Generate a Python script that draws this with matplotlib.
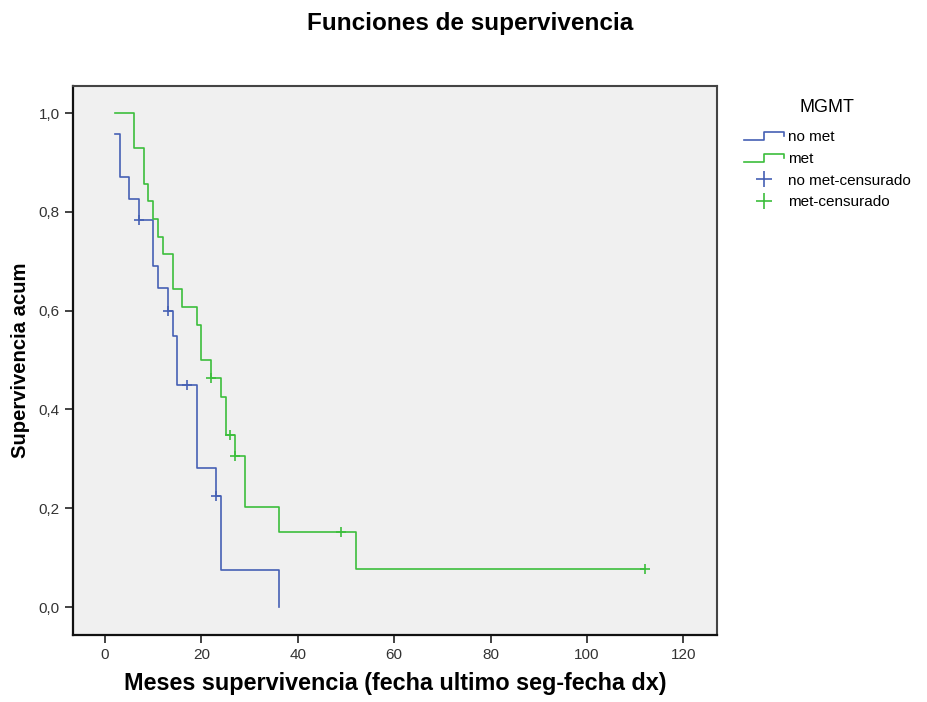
import matplotlib
matplotlib.use("Agg")
import matplotlib.pyplot as plt
from matplotlib.lines import Line2D
from matplotlib.legend_handler import HandlerBase

plt.rcParams['font.family'] = ['Liberation Sans', 'DejaVu Sans']

# Kaplan-Meier step functions (time in months, cumulative survival after each step)
no_met_time = [2, 3, 5, 7, 10, 11, 13, 14, 15, 19, 23, 24, 36]
no_met_surv = [0.957, 0.870, 0.826, 0.783, 0.690, 0.645, 0.599, 0.549,
               0.449, 0.281, 0.224, 0.075, 0.0]
met_time = [2, 6, 8, 9, 10, 11, 12, 14, 16, 19, 20, 22, 24, 25, 27, 29,
            36, 52, 112]
met_surv = [1.0, 0.929, 0.857, 0.821, 0.786, 0.750, 0.714, 0.643, 0.607,
            0.571, 0.500, 0.464, 0.426, 0.348, 0.305, 0.203, 0.152, 0.076,
            0.076]

# Censored observations
no_met_cens_time = [7, 13, 17, 23]
no_met_cens_surv = [0.783, 0.599, 0.449, 0.224]
met_cens_time = [22, 26, 27, 49, 112]
met_cens_surv = [0.464, 0.348, 0.305, 0.152, 0.076]

x_ticks = [0, 20, 40, 60, 80, 100, 120]
y_ticks = [0.0, 0.2, 0.4, 0.6, 0.8, 1.0]
group_labels = ["no met", "met", "no met-censurado", "met-censurado"]

BLUE = "#4660B4"
GREEN = "#3CBE3C"


class StepHandler(HandlerBase):
    def create_artists(self, legend, orig_handle, xdescent, ydescent,
                       width, height, fontsize, trans):
        x0, x1 = -xdescent, -xdescent + width
        xm = x0 + width * 0.5
        ylo = -ydescent + height * 0.1
        yhi = -ydescent + height * 0.85
        ymid = -ydescent + height * 0.45
        line = Line2D([x0, xm, xm, x1, x1], [ylo, ylo, yhi, yhi, ymid],
                      color=orig_handle.get_color(), lw=1.2,
                      transform=trans)
        return [line]


fig = plt.figure(figsize=(9.27, 7.02), dpi=100)
ax = fig.add_axes([0.0788, 0.0954, 0.6947, 0.7821])
ax.set_facecolor("#F0F0F0")

ax.step(no_met_time, no_met_surv, where="post", color=BLUE, lw=1.2)
ax.step(met_time, met_surv, where="post", color=GREEN, lw=1.2)
ax.plot(no_met_cens_time, no_met_cens_surv, ls="none", marker="+",
        ms=7, mew=1.2, color=BLUE)
ax.plot(met_cens_time, met_cens_surv, ls="none", marker="+",
        ms=7, mew=1.2, color=GREEN)

ax.set_xlim(-6.64, 127.0)
ax.set_ylim(-0.0567, 1.0547)
ax.set_xticks(x_ticks)
ax.set_xticklabels([str(v) for v in x_ticks])
ax.set_yticks(y_ticks)
ax.set_yticklabels([f"{v:.1f}".replace(".", ",") for v in y_ticks])
ax.tick_params(axis="both", direction="out", length=6, width=1.2,
               labelsize=11, labelcolor="#333333", colors="#222222")

for side in ("left", "bottom"):
    ax.spines[side].set_color("#111111")
    ax.spines[side].set_linewidth(1.6)
for side in ("top", "right"):
    ax.spines[side].set_color("#444444")
    ax.spines[side].set_linewidth(1.5)

ax.set_xlabel("Meses supervivencia (fecha ultimo seg-fecha dx)",
              fontsize=16.8, fontweight="bold", labelpad=7)
ax.set_ylabel("Supervivencia acum", fontsize=14.6, fontweight="bold",
              labelpad=6)
fig.text(0.507, 0.966, "Funciones de supervivencia", ha="center",
         va="center", fontsize=17.5, fontweight="bold")

handles = [
    Line2D([], [], color=BLUE),
    Line2D([], [], color=GREEN),
    Line2D([], [], color=BLUE, ls="none", marker="+", ms=11, mew=1.2),
    Line2D([], [], color=GREEN, ls="none", marker="+", ms=11, mew=1.2),
]
leg = fig.legend(handles, group_labels, title="MGMT",
                 loc="upper left", bbox_to_anchor=(0.788, 0.878),
                 frameon=False, fontsize=11, title_fontsize=13,
                 handlelength=2.6, handletextpad=0.25, labelspacing=0.5,
                 handler_map={handles[0]: StepHandler(),
                              handles[1]: StepHandler()})
leg._legend_box.align = "center"
leg._legend_box.sep = 10

fig.savefig("out.png", dpi=100, facecolor="white")
